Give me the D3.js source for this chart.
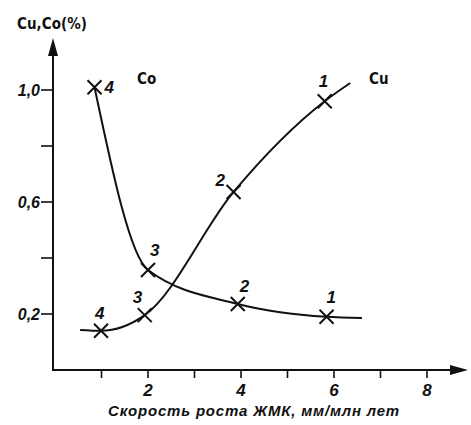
<!DOCTYPE html>
<html>
<head>
<meta charset="utf-8">
<script src="https://cdn.jsdelivr.net/npm/d3@7"></script>
<style>
  body { margin: 0; background: #fff; }
  svg text { fill: #111; }
</style>
</head>
<body>
<svg id="chart" width="471" height="425"></svg>
<script>
// growth rate (mm / Myr) and metal content (%)
const coPoints = [[0.85, 1.01], [2.0, 0.357], [3.93, 0.236], [5.84, 0.19]];
const coLabels = ["4", "3", "2", "1"];
const coTail = [6.6, 0.186];

const cuPoints = [[0.99, 0.14], [1.93, 0.196], [3.84, 0.636], [5.8, 0.96]];
const cuLabels = ["4", "3", "2", "1"];
const cuHead = [0.54, 0.143];
const cuTail = [6.35, 1.025];

const xTicks = [1, 2, 3, 4, 5, 6, 7, 8];
const xTickLabels = [2, 4, 6, 8];
const yTicks = [0.2, 0.4, 0.6, 0.8, 1.0];
const yTickLabels = [0.2, 0.6, 1.0];

const svg = d3.select('#chart');

const x = d3.scaleLinear().domain([0, 8]).range([55, 427]);
const y = d3.scaleLinear().domain([0, 1]).range([370, 90]);

const axisColor = '#111';
const italicFont = 'italic bold 17px "Liberation Sans", sans-serif';
const nameFont = 'bold 15px "DejaVu Sans", sans-serif';

// axes lines
svg.append('line')
    .attr('x1', x(0) - 2).attr('y1', y(0))
    .attr('x2', 452).attr('y2', y(0))
    .attr('stroke', axisColor).attr('stroke-width', 2);
svg.append('path')
    .attr('d', `M468,${y(0)} L450,${y(0) - 5} L450,${y(0) + 5} Z`)
    .attr('fill', axisColor);

svg.append('line')
    .attr('x1', x(0) - 2).attr('y1', y(0) + 1)
    .attr('x2', x(0) - 2).attr('y2', 54)
    .attr('stroke', axisColor).attr('stroke-width', 2);
svg.append('path')
    .attr('d', `M${x(0) - 2},38 L${x(0) - 7},56 L${x(0) + 3},56 Z`)
    .attr('fill', axisColor);

// x ticks
svg.selectAll('.xtick')
    .data(xTicks)
    .enter()
    .append('line')
    .attr('class', 'xtick')
    .attr('x1', d => x(d)).attr('x2', d => x(d))
    .attr('y1', y(0)).attr('y2', y(0) + 8)
    .attr('stroke', axisColor).attr('stroke-width', 1.6);

svg.selectAll('.xlabel')
    .data(xTickLabels)
    .enter()
    .append('text')
    .attr('class', 'xlabel')
    .attr('x', d => x(d))
    .attr('y', y(0) + 26)
    .attr('text-anchor', 'middle')
    .style('font', italicFont)
    .text(d => d);

// y ticks
svg.selectAll('.ytick')
    .data(yTicks)
    .enter()
    .append('line')
    .attr('class', 'ytick')
    .attr('x1', x(0) - 2).attr('x2', x(0) - 14)
    .attr('y1', d => y(d)).attr('y2', d => y(d))
    .attr('stroke', axisColor).attr('stroke-width', 1.6);

svg.selectAll('.ylabel')
    .data(yTickLabels)
    .enter()
    .append('text')
    .attr('class', 'ylabel')
    .attr('x', x(0) - 15)
    .attr('y', d => y(d) + 6)
    .attr('text-anchor', 'end')
    .style('font', 'italic bold 16px "Liberation Sans", sans-serif')
    .text(d => d.toFixed(1).replace('.', ','));

// axis titles
svg.append('text')
    .attr('x', 17).attr('y', 29)
    .style('font', nameFont)
    .style('font-stretch', 'condensed')
    .attr('textLength', 70)
    .text('Cu,Co(%)');

svg.append('text')
    .attr('x', 254).attr('y', 416)
    .attr('text-anchor', 'middle')
    .style('font', 'italic bold 15px "Liberation Sans", sans-serif')
    .style('letter-spacing', '0.8px')
    .text('Скорость роста ЖМК, мм/млн лет');

// curves
const line = d3.line()
    .x(d => x(d[0]))
    .y(d => y(d[1]))
    .curve(d3.curveMonotoneX);

svg.append('path')
    .datum(coPoints.concat([coTail]))
    .attr('d', line)
    .attr('fill', 'none')
    .attr('stroke', axisColor)
    .attr('stroke-width', 2);

svg.append('path')
    .datum([cuHead].concat(cuPoints, [cuTail]))
    .attr('d', line)
    .attr('fill', 'none')
    .attr('stroke', axisColor)
    .attr('stroke-width', 2);

// cross markers
function drawCrosses(points, cls) {
    let g = svg.selectAll('.' + cls)
        .data(points)
        .enter()
        .append('g')
        .attr('class', cls)
        .attr('transform', d => `translate(${x(d[0])},${y(d[1])})`);
    g.append('path')
        .attr('d', 'M-7,-7 L7,7 M-7,7 L7,-7')
        .attr('stroke', axisColor)
        .attr('stroke-width', 2);
}
drawCrosses(coPoints, 'co-mark');
drawCrosses(cuPoints, 'cu-mark');

// point numbers
const coOffsets = [[10, 6], [2, -14], [2, -12], [0, -14]];
const cuOffsets = [[-6, -12], [-12, -12], [-18, -6], [-6, -14]];

svg.selectAll('.co-num')
    .data(coPoints)
    .enter()
    .append('text')
    .attr('class', 'co-num')
    .attr('x', (d, i) => x(d[0]) + coOffsets[i][0])
    .attr('y', (d, i) => y(d[1]) + coOffsets[i][1])
    .style('font', italicFont)
    .text((d, i) => coLabels[i]);

svg.selectAll('.cu-num')
    .data(cuPoints)
    .enter()
    .append('text')
    .attr('class', 'cu-num')
    .attr('x', (d, i) => x(d[0]) + cuOffsets[i][0])
    .attr('y', (d, i) => y(d[1]) + cuOffsets[i][1])
    .style('font', italicFont)
    .text((d, i) => cuLabels[i]);

// series names
svg.append('text')
    .attr('x', 137).attr('y', 84)
    .style('font', nameFont)
    .style('font-stretch', 'condensed')
    .text('Co');
svg.append('text')
    .attr('x', 369).attr('y', 84)
    .style('font', nameFont)
    .style('font-stretch', 'condensed')
    .text('Cu');
</script>
</body>
</html>
